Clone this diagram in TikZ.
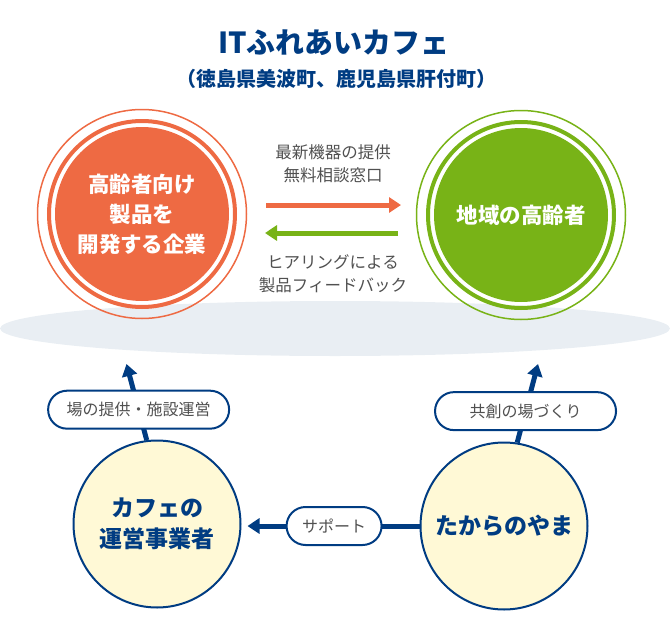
\documentclass[tikz,border=0pt]{standalone}
\usepackage{fontspec}
\setmainfont{Noto Sans CJK JP}
\usepackage{xcolor}
\usetikzlibrary{arrows.meta,positioning}

\definecolor{navyc}{HTML}{003C82}
\definecolor{orangec}{HTML}{EE6A43}
\definecolor{greenc}{HTML}{78B317}
\definecolor{creamc}{HTML}{FFF9D6}
\definecolor{mistc}{HTML}{E9EEF3}
\definecolor{textc}{HTML}{505050}

\begin{document}
\begin{tikzpicture}[x=1pt, y=-1pt, >={Triangle[width=15pt,length=12pt]},
  big/.style={circle, inner sep=0pt, minimum size=174pt, text=white, align=center,
    font=\bfseries\fontsize{21.5}{30}\selectfont},
  actor/.style={circle, draw=navyc, line width=2pt, fill=creamc, inner sep=0pt,
    minimum size=167pt, text=navyc, align=center, font=\bfseries\fontsize{23}{31}\selectfont},
  pill/.style={draw=navyc, line width=2pt, fill=white, rounded corners=19pt,
    minimum height=38pt, text=textc, font=\fontsize{16}{18}\selectfont},
  note/.style={text=textc, align=center, font=\fontsize{16.5}{23}\selectfont},
  link/.style={line width=5pt}]
  \useasboundingbox (0,0) rectangle (670,640);
  % title
  \node[text=navyc, font=\bfseries\fontsize{29}{32}\selectfont] (title) at (334,43) {ITふれあいカフェ};
  \node[text=navyc, font=\bfseries\fontsize{20}{22}\selectfont] (sub) at (336,79) {（徳島県美波町、鹿児島県肝付町）};
  % ground
  \fill[mistc] (335,328.5) ellipse [x radius=335, y radius=27.5];
  % upper circles
  \node[big, fill=orangec] (firm) at (142,214) {高齢者向け\\製品を\\開発する企業};
  \draw[orangec, line width=4pt] (firm.center) circle (93);
  \draw[orangec, line width=1.5pt] (firm.center) circle (104.5);
  \node[big, fill=greenc] (elder) at (521,215) {地域の高齢者};
  \draw[greenc, line width=4pt] (elder.center) circle (93);
  \draw[greenc, line width=1.5pt] (elder.center) circle (104.5);
  % exchange
  \coordinate (oa) at (266,205); \coordinate (ob) at (401,205);
  \coordinate (ga) at (398,233); \coordinate (gb) at (265,233);
  \draw[->, link, orangec] (oa) -- (ob);
  \draw[->, link, greenc] (ga) -- (gb);
  \node[note] (offer) at (333,164) {最新機器の提供\\無料相談窓口};
  \node[note] (back) at (333,274) {ヒアリングによる\\製品フィードバック};
  % lower circles
  \node[actor] (cafe) at (157,524) {カフェの\\運営事業者};
  \node[actor] (takara) at (504,526) {たからのやま};
  \coordinate (cafetip) at (126.5,364);
  \coordinate (takaratip) at (538,364);
  \draw[->, link, navyc] (cafe.97) -- (cafetip)
    node[pill, pos=0.4, minimum width=181pt] (place) {場の提供・施設運営};
  \draw[->, link, navyc] (takara.81) -- (takaratip)
    node[pill, pos=0.4, minimum width=181pt] (cocreate) {共創の場づくり};
  \draw[->, link, navyc, shorten >=6pt] (takara.west) -- (cafe.east |- takara.west)
    node[pill, pos=0.48, minimum width=95pt] (support) {サポート};
\end{tikzpicture}
\end{document}
